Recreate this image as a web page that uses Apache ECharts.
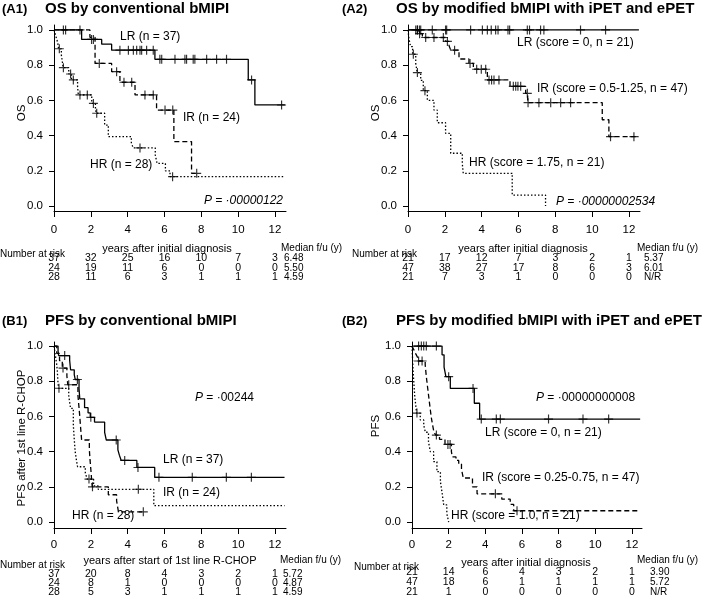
<!DOCTYPE html>
<html><head><meta charset="utf-8">
<script src="https://cdn.jsdelivr.net/npm/echarts@6/dist/echarts.min.js"></script>
<style>html,body{margin:0;padding:0;background:#fff}#c{width:709px;height:613px}</style>
</head><body><div id="c"></div>
<script>
// ---------- tick labels ----------
const xTicks = [0, 2, 4, 6, 8, 10, 12];
const yTicks = [0, 0.2, 0.4, 0.6, 0.8, 1.0];

// ---------- A1: OS by conventional bMIPI ----------
const a1LR = [[0,1],[1.50,0.946],[2.59,0.919],[3.13,0.885],[5.48,0.833],[10.55,0.716],[10.91,0.574],[12.54,0.574]];
const a1LRc = [[0.51,1],[0.63,1],[1.41,1],[2.04,0.946],[2.14,0.946],[3.58,0.885],[4.04,0.885],[4.31,0.885],[4.49,0.885],[4.67,0.885],[4.76,0.885],[5.03,0.885],[5.39,0.885],[5.75,0.833],[5.85,0.833],[6.57,0.833],[7.11,0.833],[7.2,0.833],[7.56,0.833],[7.65,0.833],[8.29,0.833],[8.83,0.833],[9.37,0.833],[10.73,0.716],[12.36,0.574]];
const a1IR = [[0,1],[1.95,0.958],[2.23,0.81],[3.13,0.763],[3.58,0.703],[4.40,0.631],[5.57,0.545],[6.51,0.366],[7.47,0.186],[7.85,0.186]];
const a1IRc = [[2.46,0.81],[3.40,0.763],[3.80,0.703],[4.22,0.703],[4.94,0.631],[5.39,0.631],[6.03,0.545],[6.45,0.545],[7.75,0.186]];
const a1HR = [[0,1],[0.1,0.964],[0.2,0.929],[0.25,0.893],[0.4,0.857],[0.45,0.821],[0.5,0.786],[0.8,0.75],[0.95,0.716],[1.28,0.68],[1.32,0.631],[2.05,0.583],[2.25,0.55],[2.3,0.527],[2.75,0.46],[2.95,0.394],[4.2,0.36],[4.3,0.33],[5.5,0.29],[5.6,0.242],[6.05,0.20],[6.3,0.167],[12.54,0.167]];
const a1HRc = [[0.29,0.893],[0.51,0.786],[0.9,0.75],[1.05,0.716],[1.41,0.631],[1.81,0.631],[2.14,0.583],[2.32,0.527],[4.67,0.33],[6.44,0.167]];
const a1Risk = [[37,32,25,16,10,7,3],[24,19,11,6,0,0,0],[28,11,6,3,1,1,1]];
const a1Median = ['6.48','5.50','4.59'];

// ---------- A2: OS by modified bMIPI ----------
const a2LR = [[0,1],[12.54,1]];
const a2LRc = [[0.42,1],[0.51,1],[0.62,1],[0.69,1],[1.32,1],[2.04,1],[2.1,1],[3.40,1],[4.04,1],[4.31,1],[4.52,1],[4.76,1],[4.89,1],[5.43,1],[5.52,1],[6.48,1],[6.6,1],[7.2,1],[7.38,1],[9.37,1],[10.73,1]];
const a2IR = [[0,1],[0.60,0.979],[0.78,0.957],[2.04,0.935],[2.23,0.91],[2.32,0.885],[2.77,0.835],[3.31,0.81],[3.55,0.777],[4.31,0.716],[5.54,0.68],[6.39,0.64],[6.50,0.587],[10.55,0.49],[10.91,0.394],[12.54,0.394]];
const a2IRc = [[0.51,1],[0.63,0.979],[0.96,0.957],[1.41,0.957],[1.92,0.957],[2.14,0.935],[2.53,0.885],[3.37,0.81],[3.73,0.777],[3.98,0.777],[4.22,0.777],[4.40,0.716],[4.54,0.716],[4.67,0.716],[4.94,0.716],[5.72,0.68],[5.85,0.68],[5.97,0.68],[6.12,0.68],[6.48,0.64],[6.52,0.587],[7.11,0.587],[7.75,0.587],[8.29,0.587],[8.83,0.587],[11.0,0.394],[12.27,0.394]];
const a2HR = [[0,1],[0.05,0.952],[0.14,0.905],[0.25,0.862],[0.42,0.81],[0.5,0.758],[0.69,0.714],[0.83,0.655],[1.05,0.60],[1.41,0.545],[1.59,0.473],[2.04,0.413],[2.32,0.30],[2.95,0.24],[3.0,0.186],[5.66,0.0625],[7.47,0]];
const a2HRc = [[0.29,0.862],[0.51,0.758],[0.92,0.655]];
const a2Risk = [[21,17,12,7,3,2,1],[47,38,27,17,8,6,3],[21,7,3,1,0,0,0]];
const a2Median = ['5.37','6.01','N/R'];

// ---------- B1: PFS by conventional bMIPI ----------
const b1LR = [[0,1],[0.22,0.973],[0.25,0.946],[0.85,0.919],[0.9,0.865],[1.1,0.838],[1.15,0.81],[1.36,0.757],[1.4,0.70],[1.66,0.65],[1.85,0.62],[1.97,0.595],[2.2,0.568],[2.75,0.51],[2.84,0.466],[3.47,0.41],[3.55,0.38],[3.65,0.35],[4.5,0.31],[5.47,0.254],[12.52,0.254]];
const b1LRc = [[0.58,0.946],[1.27,0.81],[2.0,0.595],[3.38,0.466],[3.84,0.35],[4.56,0.31],[5.70,0.254],[7.51,0.254],[9.36,0.254],[10.72,0.254]];
const b1IR = [[0,1],[0.15,0.958],[0.3,0.917],[0.45,0.875],[0.7,0.83],[0.75,0.78],[1.3,0.72],[1.35,0.66],[1.4,0.6],[1.45,0.53],[1.5,0.466],[1.92,0.41],[1.96,0.35],[2.0,0.30],[2.04,0.245],[2.08,0.20],[2.95,0.155],[3.4,0.12],[3.45,0.09],[3.5,0.058],[4.92,0.058]];
const b1IRc = [[0.49,0.875],[0.8,0.78],[2.09,0.20],[4.85,0.058]];
const b1HR = [[0,1],[0.05,0.964],[0.1,0.929],[0.15,0.893],[0.18,0.857],[0.2,0.821],[0.22,0.786],[0.25,0.76],[0.8,0.72],[0.85,0.68],[0.9,0.646],[1.05,0.55],[1.1,0.47],[1.15,0.40],[1.22,0.35],[1.28,0.314],[1.7,0.28],[1.8,0.244],[2.15,0.205],[2.4,0.186],[5.42,0.093],[12.52,0.093]];
const b1HRc = [[0.27,0.76],[1.9,0.244],[4.58,0.186]];
const b1Risk = [[37,20,8,4,3,2,1],[24,8,1,0,0,0,0],[28,5,3,1,1,1,1]];
const b1Median = ['5.72','4.87','4.59'];

// ---------- B2: PFS by modified bMIPI ----------
const b2LR = [[0,1],[1.64,0.95],[1.75,0.88],[1.85,0.826],[2.09,0.759],[3.40,0.675],[3.69,0.585],[12.45,0.585]];
const b2LRc = [[0.36,1],[0.51,1],[0.64,1],[0.78,1],[1.33,1],[2.0,0.826],[3.33,0.759],[3.78,0.585],[4.6,0.585],[4.82,0.585],[7.45,0.585],[9.33,0.585],[10.73,0.585]];
const b2IR = [[0,1],[0.1,0.979],[0.2,0.957],[0.3,0.936],[0.35,0.915],[0.72,0.894],[0.76,0.85],[0.8,0.81],[0.85,0.766],[0.9,0.723],[0.95,0.68],[1.0,0.638],[1.05,0.596],[1.12,0.553],[1.2,0.51],[1.3,0.494],[1.5,0.47],[1.8,0.441],[2.15,0.40],[2.2,0.37],[2.4,0.35],[2.55,0.33],[2.7,0.30],[2.8,0.25],[3.3,0.20],[3.55,0.16],[4.9,0.13],[5.36,0.10],[5.55,0.064],[12.45,0.064]];
const b2IRc = [[0.36,0.915],[0.55,0.915],[1.33,0.494],[1.96,0.441],[2.08,0.441],[4.55,0.16],[5.73,0.064]];
const b2HR = [[0,1],[0.02,0.952],[0.04,0.905],[0.06,0.857],[0.09,0.81],[0.12,0.762],[0.15,0.714],[0.2,0.667],[0.25,0.619],[0.45,0.58],[0.64,0.55],[0.73,0.51],[0.9,0.456],[1.0,0.40],[1.18,0.343],[1.36,0.286],[1.55,0.23],[1.65,0.16],[1.73,0.097],[1.9,0.048],[2.0,0]];
const b2HRc = [[0.27,0.619]];
const b2Risk = [[21,14,6,4,3,2,1],[47,18,6,1,1,1,1],[21,1,0,0,0,0,0]];
const b2Median = ['3.90','5.72','N/R'];

const FONT = '"Liberation Sans", Arial, Helvetica, sans-serif';
const panels = [
  {grid:{left:54,top:25,width:232,height:186}, xmax:12.6, ymin:-0.028, ymax:1.028, lm:13,
   lines:[a1LR,a1IR,a1HR], cens:[a1LRc,a1IRc,a1HRc]},
  {grid:{left:408,top:25,width:232,height:186}, xmax:12.6, ymin:-0.028, ymax:1.028, lm:13,
   lines:[a2LR,a2IR,a2HR], cens:[a2LRc,a2IRc,a2HRc]},
  {grid:{left:54,top:342,width:232,height:186}, xmax:12.6, ymin:-0.034, ymax:1.023, lm:11,
   lines:[b1LR,b1IR,b1HR], cens:[b1LRc,b1IRc,b1HRc]},
  {grid:{left:412,top:342,width:230,height:186}, xmax:12.55, ymin:-0.034, ymax:1.023, lm:11,
   lines:[b2LR,b2IR,b2HR], cens:[b2LRc,b2IRc,b2HRc]}
];
const dashTypes = ['solid', [5,3], [1.5,2]];
const plus = 'path://M8.7,0H11.3V8.7H20V11.3H11.3V20H8.7V11.3H0V8.7H8.7Z';

const grids=[], xAxes=[], yAxes=[], series=[];
panels.forEach((p,i)=>{
  grids.push(p.grid);
  xAxes.push({type:'value', gridIndex:i, min:0, max:p.xmax,
    axisLine:{show:true,onZero:false,lineStyle:{color:'#000',width:1}},
    axisTick:{show:true,length:6,customValues:xTicks,lineStyle:{color:'#000',width:1}},
    axisLabel:{customValues:xTicks,color:'#000',fontSize:11.5,fontFamily:FONT,margin:p.lm},
    splitLine:{show:false}});
  yAxes.push({type:'value', gridIndex:i, min:p.ymin, max:p.ymax,
    axisLine:{show:true,onZero:false,lineStyle:{color:'#000',width:1}},
    axisTick:{show:true,length:5,customValues:yTicks,lineStyle:{color:'#000',width:1}},
    axisLabel:{customValues:yTicks,color:'#000',fontSize:11.5,fontFamily:FONT,margin:11,
      formatter:v=>v.toFixed(1)},
    splitLine:{show:false}});
  p.lines.forEach((d,k)=>{
    series.push({type:'line', xAxisIndex:i, yAxisIndex:i, data:d, step:'end',
      showSymbol:false, silent:true, lineStyle:{color:'#000',width:1.3,type:dashTypes[k]}});
  });
  p.cens.forEach(d=>{
    series.push({type:'scatter', xAxisIndex:i, yAxisIndex:i, data:d, symbol:plus,
      symbolSize:9, silent:true, itemStyle:{color:'#000'}});
  });
});

const chart = echarts.init(document.getElementById('c'), null, {renderer:'canvas'});
chart.setOption({animation:false, backgroundColor:'#fff', grid:grids, xAxis:xAxes, yAxis:yAxes, series:series});

// ---------- text ----------
const G = [];
function txt(s, x, y, o){
  o = o || {};
  G.push({type:'text', x:x, y:y, rotation:o.rot||0, silent:true,
    style:{text:s, fill:'#000', fontFamily:FONT, fontSize:o.size||12, fontWeight:o.bold?'bold':'normal',
      fontStyle:o.italic?'italic':'normal', align:o.align||'left', verticalAlign:'middle', rich:o.rich}});
}
const richP = {i:{fontStyle:'italic',fontFamily:FONT,fontSize:12,fill:'#000'}};
// titles
txt('(A1)', 2, 9, {bold:true,size:13});
txt('OS by conventional bMIPI', 45, 9, {bold:true,size:15});
txt('(A2)', 342, 9, {bold:true,size:13});
txt('OS by modified bMIPI with iPET and ePET', 396, 9, {bold:true,size:15});
txt('(B1)', 2, 321, {bold:true,size:13});
txt('PFS by conventional bMIPI', 45, 321, {bold:true,size:15});
txt('(B2)', 342, 321, {bold:true,size:13});
txt('PFS by modified bMIPI with iPET and ePET', 396, 321, {bold:true,size:15});
// y axis names
txt('OS', 22, 113, {rot:Math.PI/2, align:'center', size:11.5});
txt('OS', 376, 113, {rot:Math.PI/2, align:'center', size:11.5});
txt('PFS after 1st line R-CHOP', 22, 438, {rot:Math.PI/2, align:'center', size:11.5});
txt('PFS', 376, 426, {rot:Math.PI/2, align:'center', size:11.5});
// curve labels
txt('LR (n = 37)', 120, 37); txt('IR (n = 24)', 183, 118); txt('HR (n = 28)', 90, 165);
txt('P = ·00000122', 283, 201, {italic:true, align:'right'});
txt('LR (score = 0, n = 21)', 517, 43); txt('IR (score = 0.5-1.25, n = 47)', 537, 89);
txt('HR (score = 1.75, n = 21)', 469, 163);
txt('P = ·00000002534', 556, 202, {italic:true});
txt('{i|P} = ·00244', 195, 398, {rich:richP});
txt('LR (n = 37)', 163, 460); txt('IR (n = 24)', 163, 493); txt('HR (n = 28)', 72, 516);
txt('{i|P} = ·00000000008', 536, 398, {rich:richP});
txt('LR (score = 0, n = 21)', 485, 433); txt('IR (score = 0.25-0.75, n = 47)', 482, 478);
txt('HR (score = 1.0, n = 21)', 451, 516);

// risk tables
const tables = [
  {risk:a1Risk, med:a1Median, nar:[0,254], ttl:['years after initial diagnosis',167,249], mh:[281,248], ml:284, rows:[258.5,268,277]},
  {risk:a2Risk, med:a2Median, nar:[352,254], ttl:['years after initial diagnosis',523,249], mh:[637,248], ml:644, rows:[258.5,268,277]},
  {risk:b1Risk, med:b1Median, nar:[0,565], ttl:['years after start of 1st line R-CHOP',170,561], mh:[280,560], ml:283, rows:[574,583,592]},
  {risk:b2Risk, med:b2Median, nar:[354,567], ttl:['years after initial diagnosis',526,563], mh:[637,560], ml:650, rows:[572,582,592]}
];
tables.forEach((t,i)=>{
  txt('Number at risk', t.nar[0], t.nar[1], {size:10});
  txt(t.ttl[0], t.ttl[1], t.ttl[2], {size:11, align:'center'});
  txt('Median f/u (y)', t.mh[0], t.mh[1], {size:10});
  t.risk.forEach((row,r)=>{
    row.forEach((v,c)=>{
      const px = chart.convertToPixel({gridIndex:i}, [xTicks[c], 0])[0];
      txt(String(v), px, t.rows[r], {size:10.5, align:'center'});
    });
    txt(t.med[r], t.ml, t.rows[r], {size:10});
  });
});
chart.setOption({graphic:G});
</script></body></html>
